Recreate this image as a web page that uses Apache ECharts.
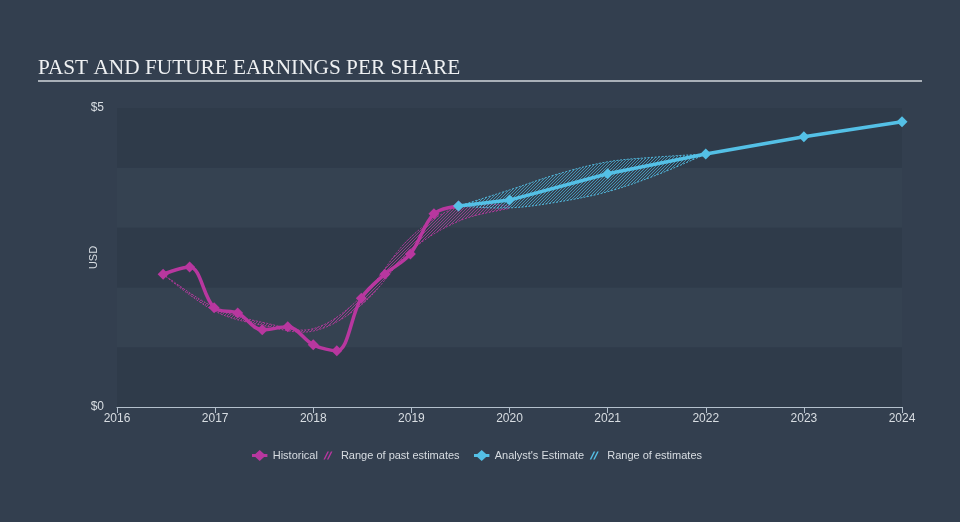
<!DOCTYPE html>
<html><head><meta charset="utf-8">
<script src="https://cdn.jsdelivr.net/npm/echarts@6/dist/echarts.min.js"></script>
<style>html,body{margin:0;padding:0;background:#333f4f;}#c{width:960px;height:522px;}</style>
</head><body><div id="c"></div>
<script>
const titleText = 'PAST AND FUTURE EARNINGS PER SHARE';
const histX = [2016.47, 2016.74, 2016.99, 2017.23, 2017.48, 2017.74, 2018.0, 2018.24, 2018.49, 2018.73, 2018.99, 2019.23, 2019.48];
const histY = [2.22, 2.34, 1.66, 1.57, 1.29, 1.34, 1.04, 0.94, 1.82, 2.22, 2.56, 3.23, 3.36];
const pastRangeX = [2016.47, 2017.0, 2017.5, 2018.0, 2018.5, 2019.0, 2019.5, 2020.0];
const pastLow  = [2.22, 1.60, 1.36, 1.27, 1.72, 2.62, 3.12, 3.32];
const pastHigh = [2.22, 1.66, 1.41, 1.31, 1.86, 2.85, 3.36, 3.36];
const estX = [2019.48, 2020, 2021, 2022, 2023, 2024];
const estY = [3.36, 3.46, 3.90, 4.23, 4.52, 4.77];
const estRangeX = [2019.48, 2020.0, 2020.5, 2021.0, 2021.5, 2022.0];
const estLow  = [3.36, 3.33, 3.43, 3.60, 3.88, 4.23];
const estHigh = [3.36, 3.63, 3.90, 4.10, 4.18, 4.23];
const yTicks = {0: '$0', 5: '$5'};

function hatch(color) {
  const c = document.createElement('canvas');
  c.width = 3; c.height = 3;
  const g = c.getContext('2d');
  g.strokeStyle = color; g.lineWidth = 0.9;
  g.beginPath();
  g.moveTo(-1, 4); g.lineTo(4, -1);
  g.moveTo(2, 4); g.lineTo(4, 2);
  g.moveTo(-1, 1); g.lineTo(1, -1);
  g.stroke();
  return c;
}
const MAG = '#b8379f', CYAN = '#54c0e6';
const pair = (xs, ys) => xs.map((x, i) => [x, ys[i]]);

function bandSeries(name, xs, lo, hi, color, hatchColor) {
  const pat = hatch(hatchColor);
  return {
    name, type: 'custom', z: 1, silent: true, data: [[xs[0], lo[0]]],
    renderItem: (params, api) => {
      const low = xs.map((x, i) => api.coord([x, lo[i]]));
      const high = xs.map((x, i) => api.coord([x, hi[i]]));
      const poly = low.concat(high.slice().reverse());
      const edge = {stroke: color, lineWidth: 1, lineDash: [2, 1.5], fill: null, opacity: 0.9};
      return {type: 'group', children: [
        {type: 'polygon', shape: {points: poly, smooth: 0.35}, style: {fill: {image: pat, repeat: 'repeat'}, opacity: 0.75}},
        {type: 'polyline', shape: {points: low, smooth: 0.35}, style: edge},
        {type: 'polyline', shape: {points: high, smooth: 0.35}, style: edge}
      ]};
    }
  };
}

const chart = echarts.init(document.getElementById('c'), null, {renderer: 'canvas'});
const diamond = 'path://M0,5 L5,0 L10,5 L5,10 Z';
const legIcon = 'path://M0,3.6 L3,3.6 L7,0 L11,3.6 L14,3.6 L14,6.4 L11,6.4 L7,10 L3,6.4 L0,6.4 Z';
const hatchIcon = 'path://M0,0 L0.01,0 L0,0.01 Z M16,11 L15.99,11 L16,10.99 Z M3.5,9.5 L7.5,1.5 L9,1.5 L5,9.5 Z M7,9.5 L11,1.5 L12.5,1.5 L8.5,9.5 Z';
const legText = {color: '#d8dde2', fontSize: 11, fontFamily: 'Liberation Sans, Arial, sans-serif'};
chart.setOption({
  backgroundColor: '#333f4f',
  animation: false,
  title: {text: titleText, left: 33, top: 53, textStyle: {fontFamily: 'Liberation Serif, serif', fontWeight: 'normal', fontSize: 21.3, color: '#eef0f2'}},
  graphic: [{type: 'rect', shape: {x: 38, y: 80, width: 884, height: 2}, style: {fill: '#a9b0b8'}}],
  grid: {left: 117, right: 58, top: 108, bottom: 115},
  legend: [{
    top: 445, left: 247, itemGap: 2, itemWidth: 16, itemHeight: 11, textStyle: legText,
    data: [
      {name: 'Historical', icon: legIcon, itemStyle: {color: MAG}},
      {name: 'Range of past estimates', icon: hatchIcon, itemStyle: {color: MAG}}
    ]
  }, {
    top: 445, left: 469, itemGap: 2, itemWidth: 16, itemHeight: 11, textStyle: legText,
    data: [
      {name: "Analyst's Estimate", icon: legIcon, itemStyle: {color: CYAN}},
      {name: 'Range of estimates', icon: hatchIcon, itemStyle: {color: CYAN}}
    ]
  }],
  xAxis: {
    type: 'value', min: 2016, max: 2024, interval: 1,
    axisLine: {show: true, lineStyle: {color: '#b4c0cc', width: 1}},
    axisTick: {show: true, length: 6, lineStyle: {color: '#b4c0cc'}},
    axisLabel: {color: '#d8dde2', fontSize: 12, fontFamily: 'Liberation Sans, sans-serif', margin: 6, formatter: v => String(v)},
    splitLine: {show: false}
  },
  yAxis: {
    type: 'value', min: 0, max: 5, interval: 1,
    name: 'USD', nameLocation: 'middle', nameGap: 18, nameRotate: 90, nameMoveOverlap: false,
    nameTextStyle: {color: '#d8dde2', fontSize: 11, fontFamily: 'Liberation Sans, sans-serif'},
    axisLine: {show: false}, axisTick: {show: false},
    axisLabel: {color: '#d8dde2', fontSize: 12, margin: 13, fontFamily: 'Liberation Sans, sans-serif', formatter: v => yTicks[v] || ''},
    splitLine: {show: false},
    splitArea: {show: true, areaStyle: {color: ['#2f3b4a', '#354251']}}
  },
  series: [
    bandSeries('Range of past estimates', pastRangeX, pastLow, pastHigh, MAG, '#c23fa8'),
    bandSeries('Range of estimates', estRangeX, estLow, estHigh, CYAN, '#4fbde4'),
    {name: 'Historical', type: 'line', data: pair(histX, histY), smooth: 0.35, symbol: diamond, symbolSize: 11,
     lineStyle: {color: MAG, width: 3.5}, itemStyle: {color: MAG}, z: 3},
    {name: "Analyst's Estimate", type: 'line', data: pair(estX, estY), smooth: false, symbol: diamond, symbolSize: 11,
     lineStyle: {color: CYAN, width: 3.5}, itemStyle: {color: CYAN}, z: 4}
  ]
});
</script></body></html>
